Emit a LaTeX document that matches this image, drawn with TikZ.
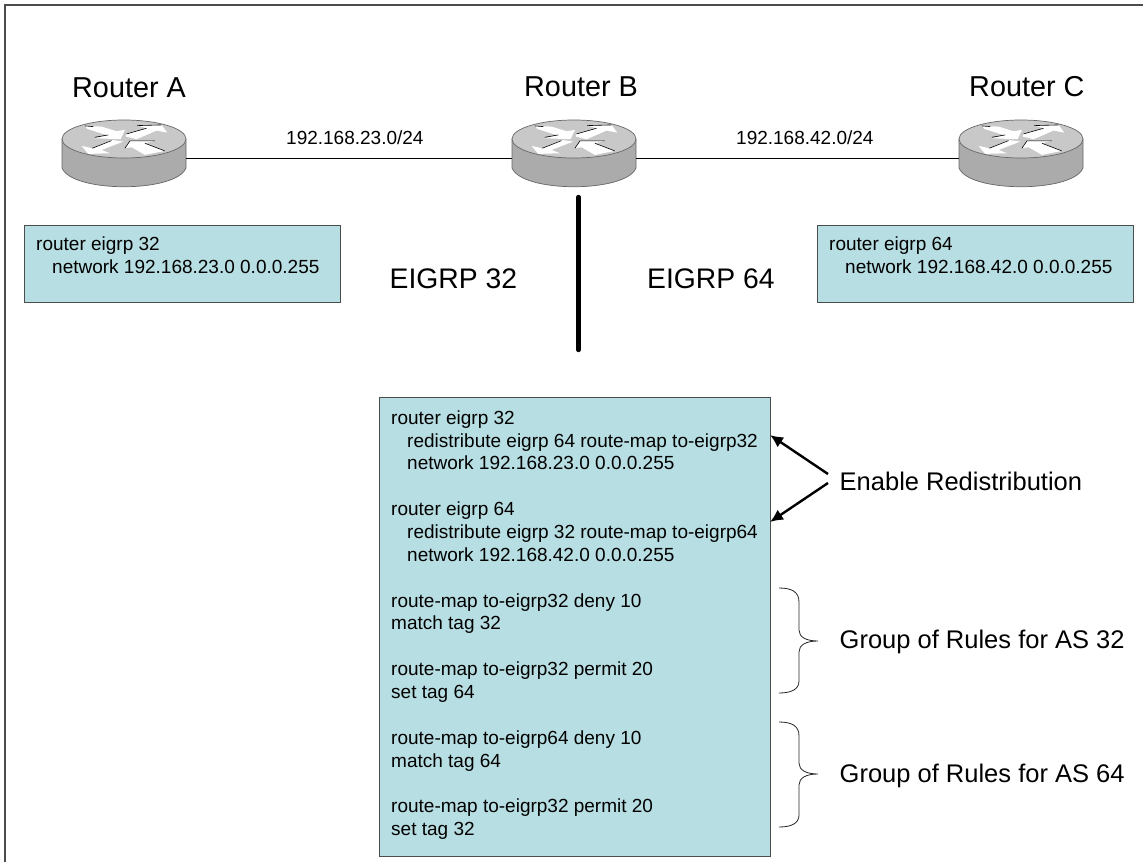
\documentclass[tikz,border=0pt]{standalone}
\usepackage{fontspec}
\setmainfont{Liberation Sans}
\usetikzlibrary{arrows.meta}
\definecolor{boxfill}{HTML}{B7DEE2}
\definecolor{routertop}{HTML}{C8C8C8}
\definecolor{routerside}{HTML}{ABABAB}
\tikzset{
  cfgbox/.style={draw=black!70,fill=boxfill,line width=1pt,anchor=north west,inner sep=0pt},
  cfg/.style={anchor=north west,align=left,inner sep=0pt,font=\fontsize{19}{22.85}\selectfont},
  title/.style={inner sep=0pt,anchor=base west,font=\fontsize{28.8}{32}\selectfont},
  note/.style={inner sep=0pt,anchor=base west,font=\fontsize{25.5}{30}\selectfont},
  bignote/.style={inner sep=0pt,anchor=base west,font=\fontsize{28.3}{32}\selectfont},
  netlabel/.style={inner sep=0pt,anchor=base west,font=\fontsize{19}{22}\selectfont},
  brace/.style={line width=0.8pt,black!85},
  pointer/.style={-{Latex[length=13pt,width=12pt]},line width=2.4pt},
  routerbody/.style={draw=black!60,line width=0.7pt}
}
\newcommand{\routerpic}[1]{
  \begin{scope}[shift={(#1)}]
    \draw[routerbody,fill=routerside] (-62,-19) -- (-62,10) .. controls (-52,35) and (52,35) .. (62,10) -- (62,-19) -- cycle;
    \draw[routerbody,fill=routertop] (0,-19) ellipse (62 and 19);
    \begin{scope}[shift={(-94,-98)},x=0.333pt,y=-0.333pt]
      \fill[white] (165,198) -- (215,200) -- (260,214) -- (285,210) -- (272,238) -- (195,235) -- (232,226) -- (172,207) -- cycle;
      \fill[white] (412,218) -- (395,195) -- (322,197) -- (350,205) -- (290,222) -- (288,230) -- (320,238) -- (380,212) -- cycle;
      \fill[white] (155,258) -- (175,282) -- (240,280) -- (215,270) -- (280,245) -- (245,240) -- (187,265) -- cycle;
      \fill[white] (285,265) -- (300,243) -- (375,243) -- (345,250) -- (405,273) -- (345,285) -- (305,262) -- cycle;
      \draw[black,line width=0.6pt] (165,198) -- (190,200) (195,232) -- (235,225) (290,222) -- (350,205) (187,265) -- (245,242) (285,265) -- (300,243) -- (375,243) (345,250) -- (405,273) (322,197) -- (395,195);
    \end{scope}
  \end{scope}
}
\begin{document}
\begin{tikzpicture}[x=1pt,y=-1pt]
  \useasboundingbox (0,0) rectangle (1143,862);
  \coordinate (frameA) at (5,862);
  \coordinate (frameB) at (5,5);
  \coordinate (frameC) at (1143,5);
  \draw[black!70,line width=1.1pt] (frameA) -- (frameB) -- (frameC);

  \routerpic{124,158}
  \routerpic{574,158}
  \routerpic{1021,158}
  \coordinate (raE) at (186,158);
  \coordinate (rbW) at (512,158);
  \coordinate (rbE) at (636,158);
  \coordinate (rcW) at (959,158);
  \draw[line width=0.8pt] (raE) -- (rbW);
  \draw[line width=0.8pt] (rbE) -- (rcW);

  \node[title] (ta) at (72,97.3) {Router A};
  \node[title] (tb) at (524,96) {Router B};
  \node[title] (tc) at (969,96) {Router C};
  \node[netlabel] (n1) at (286,144) {192.168.23.0/24};
  \node[netlabel] (n2) at (736,144) {192.168.42.0/24};

  \node[cfgbox,minimum width=316,minimum height=77] (boxa) at (24,225) {};
  \node[cfg] (cfga) at (36,236.6) {router eigrp 32\\\hspace*{16pt}network 192.168.23.0 0.0.0.255};
  \node[cfgbox,minimum width=316,minimum height=77] (boxc) at (817,225) {};
  \node[cfg] (cfgc) at (829,236.6) {router eigrp 64\\\hspace*{16pt}network 192.168.42.0 0.0.0.255};

  \coordinate (splitT) at (578.5,197);
  \coordinate (splitB) at (578.5,350);
  \draw[line width=4.4pt,line cap=round] (splitT) -- (splitB);
  \node[bignote] (e32) at (389.5,288) {EIGRP 32};
  \node[bignote] (e64) at (647,288) {EIGRP 64};

  \node[cfgbox,minimum width=391,minimum height=459] (boxb) at (379,397) {};
  \node[cfg] (cfgb) at (391,410.3) {router eigrp 32\\
    \hspace*{16pt}redistribute eigrp 64 route-map to-eigrp32\\
    \hspace*{16pt}network 192.168.23.0 0.0.0.255\\[22.85pt]
    router eigrp 64\\
    \hspace*{16pt}redistribute eigrp 32 route-map to-eigrp64\\
    \hspace*{16pt}network 192.168.42.0 0.0.0.255\\[22.85pt]
    route-map to-eigrp32 deny 10\\
    match tag 32\\[22.85pt]
    route-map to-eigrp32 permit 20\\
    set tag 64\\[22.85pt]
    route-map to-eigrp64 deny 10\\
    match tag 64\\[22.85pt]
    route-map to-eigrp32 permit 20\\
    set tag 32};

  \node[note] (en) at (839.5,490) {Enable Redistribution};
  \coordinate (p1) at (828,474);
  \coordinate (p2) at (828,483);
  \coordinate (t1) at (770,435);
  \coordinate (t2) at (770,522);
  \draw[pointer] (p1) -- (t1);
  \draw[pointer] (p2) -- (t2);

  \node[note] (g32) at (839.5,648) {Group of Rules for AS 32};
  \node[note] (g64) at (839.5,782) {Group of Rules for AS 64};
  \coordinate (b1) at (779,588);
  \coordinate (b2) at (779,693);
  \coordinate (b3) at (779,722);
  \coordinate (b4) at (779,827);
  \draw[brace] (b1) .. controls (792,588) and (799,592) .. (799,602) -- (799,630) .. controls (799,637) and (806,641) .. (818,641) .. controls (806,641) and (799,645) .. (799,652) -- (799,681) .. controls (799,689) and (792,693) .. (b2);
  \draw[brace] (b3) .. controls (792,722) and (799,726) .. (799,736) -- (799,763) .. controls (799,770) and (806,774) .. (818,774) .. controls (806,774) and (799,778) .. (799,785) -- (799,815) .. controls (799,823) and (792,827) .. (b4);
\end{tikzpicture}
\end{document}
